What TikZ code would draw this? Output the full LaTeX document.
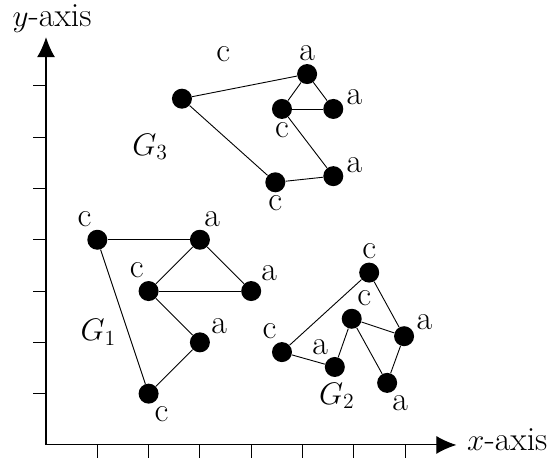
\documentclass[tikz,border=0pt]{standalone}
\usetikzlibrary{arrows.meta}
\begin{document}
\begin{tikzpicture}[
		every node/.style={font=\fontsize{18.8}{22}\selectfont},
		vertex/.style={circle, fill=black, inner sep=0pt, minimum size=0.39cm},
		every label/.style={inner sep=1pt, font=\fontsize{18.8}{22}\selectfont},
		label distance=0.5pt,
		axis/.style={line width=0.6pt, -{Latex[length=3.9mm,width=3.5mm]}},
		edge/.style={line width=0.5pt},
		]
		
		\useasboundingbox (-0.897,-0.253) rectangle (9.825,8.674);
		
		\coordinate (origin) at (0,0);
		\coordinate (xend)   at (8,0);
		\coordinate (yend)   at (0,7.95);
		\draw[axis] (origin) -- (xend) node[anchor=base west, inner sep=0pt, xshift=0.2cm, yshift=-0.11cm] (xlabel) {$x$-axis};
		\draw[axis] (origin) -- (yend) node[above, inner sep=2pt, xshift=0.12cm] (ylabel) {$y$-axis};
		\foreach \i in {1,...,7} {
			\draw[line width=0.6pt] (\i,0) -- (\i,-0.25);
			\draw[line width=0.6pt] (0,\i) -- (-0.25,\i);
		}
		
		\node[vertex, label={110:c}]  (g1c1) at (1,4) {};
		\node[vertex, label={78:a}]   (g1a1) at (3,4) {};
		\node[vertex, label={105:c}]  (g1c2) at (2,3) {};
		\node[vertex, label={45:a}]   (g1a2) at (4,3) {};
		\node[vertex, label={35:a}]   (g1a3) at (3,2) {};
		\node[vertex, label={-70:c}]  (g1c3) at (2,1) {};
		\node (g1) at (1.02,2.20) {$G_1$};
		
		\node[vertex, label={108:c}]  (g2c1) at (4.60,1.81) {};
		\node[vertex, label={90:c}]   (g2c2) at (6.30,3.36) {};
		\node[vertex, label={72:c}]   (g2c3) at (5.96,2.46) {};
		\node[vertex, label={115:a}]  (g2a1) at (5.63,1.52) {};
		\node[vertex, label={23:a}]   (g2a2) at (6.98,2.12) {};
		\node[vertex, label={-74:a}]  (g2a3) at (6.65,1.21) {};
		\node (g2) at (5.67,0.96) {$G_2$};
		
		\node[vertex, label={[label distance=0.72cm]47:c}] (g3c1) at (2.65,6.75) {};
		\node[vertex, label={90:a}]   (g3a1) at (5.09,7.23) {};
		\node[vertex, label={-90:c}]  (g3c2) at (4.60,6.55) {};
		\node[vertex, label={10:a}]   (g3a2) at (5.60,6.55) {};
		\node[vertex, label={-90:c}]  (g3c3) at (4.47,5.12) {};
		\node[vertex, label={8:a}]    (g3a3) at (5.60,5.24) {};
		\node (g3) at (2.03,5.81) {$G_3$};
		
		\draw[edge] (g1c1) -- (g1a1);
		\draw[edge] (g1c1) -- (g1c3);
		\draw[edge] (g1a1) -- (g1c2);
		\draw[edge] (g1a1) -- (g1a2);
		\draw[edge] (g1c2) -- (g1a2);
		\draw[edge] (g1c2) -- (g1a3);
		\draw[edge] (g1a3) -- (g1c3);
		
		\draw[edge] (g2c1) -- (g2c2);
		\draw[edge] (g2c2) -- (g2a2);
		\draw[edge] (g2c1) -- (g2a1);
		\draw[edge] (g2a1) -- (g2c3);
		\draw[edge] (g2c3) -- (g2a2);
		\draw[edge] (g2c3) -- (g2a3);
		\draw[edge] (g2a2) -- (g2a3);
		
		\draw[edge] (g3c1) -- (g3a1);
		\draw[edge] (g3c1) -- (g3c3);
		\draw[edge] (g3a1) -- (g3c2);
		\draw[edge] (g3a1) -- (g3a2);
		\draw[edge] (g3c2) -- (g3a2);
		\draw[edge] (g3c2) -- (g3a3);
		\draw[edge] (g3c3) -- (g3a3);
		
	\end{tikzpicture}
\end{document}
